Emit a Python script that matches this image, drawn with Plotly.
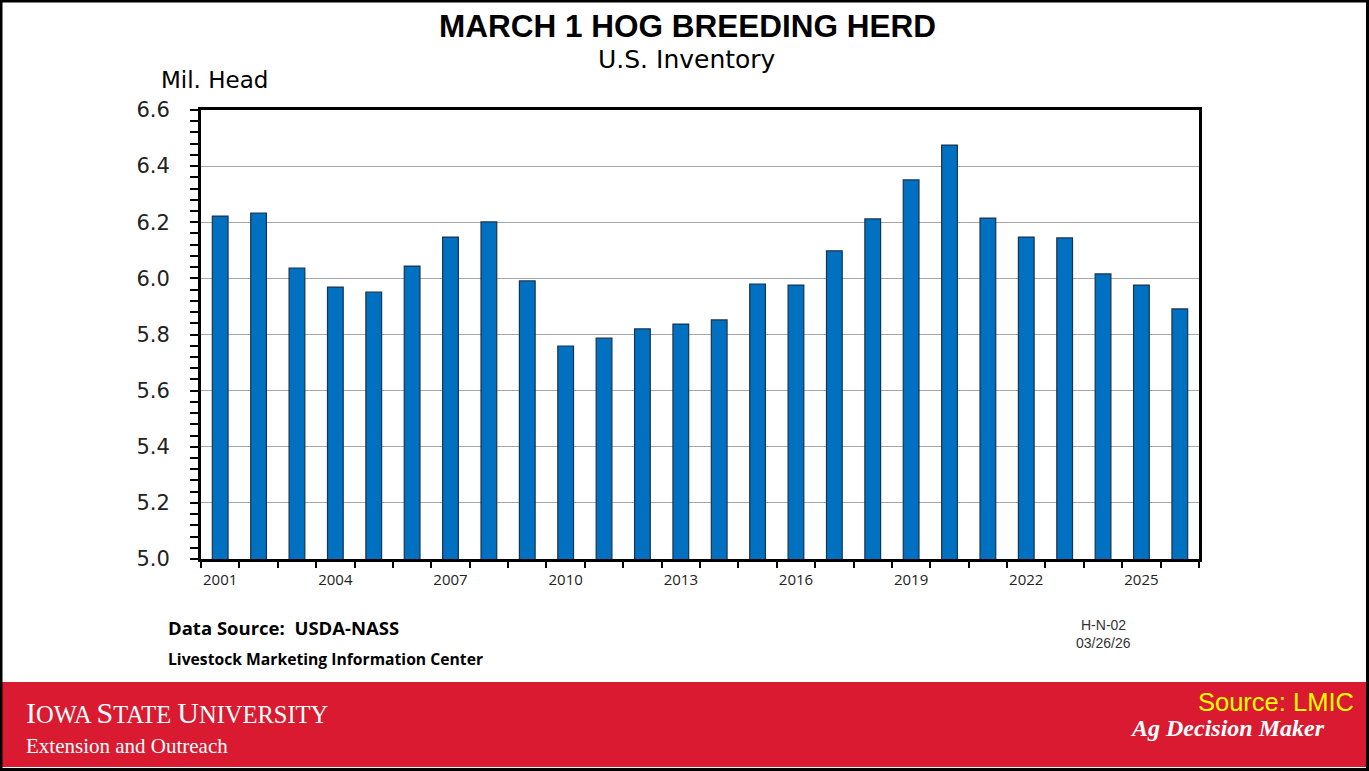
import plotly.graph_objects as go

years = list(range(2001, 2027))
breeding_herd = [6.222, 6.233, 6.037, 5.969, 5.951, 6.044, 6.147, 6.201, 5.991,
                 5.759, 5.787, 5.820, 5.837, 5.852, 5.980, 5.976, 6.098, 6.212,
                 6.351, 6.475, 6.215, 6.147, 6.144, 6.016, 5.976, 5.891]
label_years = [2001, 2004, 2007, 2010, 2013, 2016, 2019, 2022, 2025]
boundaries = [y - 0.5 for y in years] + [years[-1] + 0.5]

W, H = 1369, 771
L, R, T, B = 201, 1199, 110, 559

def px(x):
    return (x - L) / (R - L)

def py(y):
    return (B - y) / (B - T)

fig = go.Figure()
fig.add_trace(go.Bar(
    x=years, y=breeding_herd,
    marker=dict(color="#0070C0", line=dict(color="#1B3350", width=1.2)),
    width=0.41,
))

fig.update_layout(
    width=W, height=H,
    margin=dict(l=L, r=W - R, t=T, b=H - B, pad=0),
    paper_bgcolor="white", plot_bgcolor="white",
    showlegend=False,
    xaxis=dict(
        range=[years[0] - 0.5, years[-1] + 0.5],
        tickvals=label_years, ticktext=[str(v) for v in label_years],
        ticks="", showgrid=False, zeroline=False,
        showline=True, linecolor="black", linewidth=3, mirror=True,
        tickfont=dict(family="Open Sans", size=15, color="#222"),
        ticklabelstandoff=5,
        minor=dict(tickvals=boundaries, ticks="outside", ticklen=6,
                   tickcolor="black", tickwidth=1.5, showgrid=False),
    ),
    yaxis=dict(
        range=[5.0, 6.6], dtick=0.2, tickformat=".1f",
        ticks="outside", ticklen=8, tickcolor="black", tickwidth=1.5,
        showgrid=True, gridcolor="#A6A6A6", gridwidth=1, zeroline=False,
        showline=True, linecolor="black", linewidth=3, mirror=True,
        tickfont=dict(family="DejaVu Sans", size=21, color="#222"),
        ticklabelstandoff=16,
        minor=dict(dtick=0.04, ticks="outside", ticklen=8, tickcolor="black",
                   tickwidth=1.5, showgrid=False),
    ),
    bargap=0.6,
)

shapes = [
    dict(type="rect", xref="paper", yref="paper",
         x0=px(0), x1=px(W), y0=py(767), y1=py(682),
         fillcolor="#D91A30", line=dict(width=0), layer="below"),
    dict(type="rect", xref="paper", yref="paper",
         x0=px(1), x1=px(W - 1.5), y0=py(H - 1.5), y1=py(1),
         fillcolor="rgba(0,0,0,0)", line=dict(color="black", width=3)),
]
fig.update_layout(shapes=shapes)

def ann(text, x, y, size, family, color="black", xanchor="center", yanchor="middle"):
    fig.add_annotation(text=text, x=px(x), y=py(y), xref="paper", yref="paper",
                       showarrow=False, xanchor=xanchor, yanchor=yanchor,
                       font=dict(size=size, family=family, color=color))

ann("<b>MARCH 1 HOG BREEDING HERD</b>", 687, 26, 31.5, "Liberation Sans")
ann("U.S. Inventory", 687, 60, 25, "DejaVu Sans")
ann("Mil. Head", 159, 80, 23, "DejaVu Sans", xanchor="left")
ann("<b>Data Source:  USDA-NASS</b>", 166, 627, 18.5, "Open Sans", xanchor="left")
ann("<b>Livestock Marketing Information Center</b>", 166, 659, 15.7, "Open Sans", xanchor="left")
ann("H-N-02", 1103, 625, 14, "Liberation Sans", color="#333")
ann("03/26/26", 1103, 643, 14, "Liberation Sans", color="#333")
ann('<span style="font-size:30px">I</span>OWA <span style="font-size:30px">S</span>TATE '
    '<span style="font-size:30px">U</span>NIVERSITY',
    24, 731, 24.5, "Liberation Serif", color="white", xanchor="left", yanchor="bottom")
ann("Extension and Outreach", 24, 732, 21, "Liberation Serif", color="white",
    xanchor="left", yanchor="top")
ann("Source: LMIC", 1356, 702, 25.5, "Liberation Sans", color="#FFFF00", xanchor="right")
ann("<b><i>Ag Decision Maker</i></b>", 1327, 728, 24, "Liberation Serif", color="white", xanchor="right")

fig.write_html("out.html", config={"displayModeBar": False},
               post_script="document.body.style.margin='0';document.body.style.overflow='hidden';")
